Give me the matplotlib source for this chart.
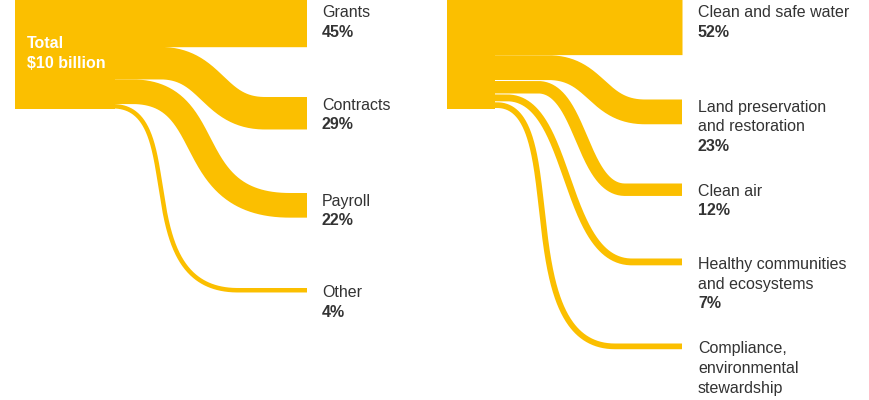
import numpy as np
import matplotlib
matplotlib.use("Agg")
import matplotlib.pyplot as plt
from matplotlib.patches import Rectangle

# ---------------- data ----------------
total_label = ["Total", "$10 billion"]
left_categories = ["Grants", "Contracts", "Payroll", "Other"]
left_shares = [45, 29, 22, 4]
right_categories = [
    "Clean and safe water",
    "Land preservation\nand restoration",
    "Clean air",
    "Healthy communities\nand ecosystems",
    "Compliance,\nenvironmental\nstewardship",
]
right_shares = [52, 23, 12, 7, 6]

# ---------------- layout / style ----------------
YELLOW = "#FBBF00"
TEXT = "#333333"
FONT = "Liberation Sans"
FS = 11.5            # points
DPI = 100
PX_PER_PCT = 1.12
NODE_BOTTOM = 108.5
LINE_STEP = 19.7
CAP = 11.2

panels = [
    dict(cats=left_categories, vals=left_shares, node_x=(15, 115),
         target_x=307, label_x=322,
         target_tops=[None, 97, 193, 288],
         bend_start=[None, 160, 132, 113],
         bend_end=[None, 265, 290, 238],
         shape=[None, (0.5, 0.5), (0.55, 0.3), (0.62, 0.1)], gap=0.0),
    dict(cats=right_categories, vals=right_shares, node_x=(447, 495),
         target_x=682, label_x=698,
         target_tops=[None, 99, 183, 258, 343],
         bend_start=[None, 548, 538, 507, 497],
         bend_end=[None, 645, 625, 632, 615],
         shape=[None, (0.5, 0.5), (0.5, 0.5), (0.52, 0.44), (0.62, 0.1)],
         gap=1.0),
]

fig = plt.figure(figsize=(8.7, 4.0), dpi=DPI)
ax = fig.add_axes([0, 0, 1, 1])
ax.set_xlim(0, 870)
ax.set_ylim(400, 0)
ax.axis("off")


def bezier(x0, y0, x1, y1, a1, a2, n=240):
    t = np.linspace(0, 1, n)
    dx = x1 - x0
    px = [x0, x0 + a1 * dx, x0 + a2 * dx, x1]
    py = [y0, y0, y1, y1]
    b = [(1 - t) ** 3, 3 * (1 - t) ** 2 * t, 3 * (1 - t) * t ** 2, t ** 3]
    xs = sum(bi * p for bi, p in zip(b, px))
    ys = sum(bi * p for bi, p in zip(b, py))
    return xs, ys


for p in panels:
    vals = np.array(p["vals"], dtype=float)
    total = vals.sum()
    node_top = NODE_BOTTOM - total * PX_PER_PCT
    nx0, nx1 = p["node_x"]
    ax.add_patch(Rectangle((nx0, node_top), nx1 - nx0, NODE_BOTTOM - node_top,
                           facecolor=YELLOW, edgecolor="none", zorder=2))
    cum = node_top
    for i, v in enumerate(vals):
        th = v * PX_PER_PCT
        y0c = cum + th / 2
        cum += th
        tt = p["target_tops"][i]
        lw = max(th - p["gap"], 0.5) * 72.0 / DPI
        if tt is None:
            xs = [nx1 - 0.5, p["target_x"]]
            ys = [y0c, y0c]
            band_top = y0c - th / 2
        else:
            y1c = tt + th / 2
            band_top = tt
            bs, be = p["bend_start"][i], p["bend_end"][i]
            a1, a2 = p["shape"][i]
            bx, by = bezier(bs, y0c, be, y1c, a1, a2)
            xs = np.concatenate([[nx1 - 0.5], bx, [p["target_x"]]])
            ys = np.concatenate([[y0c], by, [y1c]])
        ax.plot(xs, ys, color=YELLOW, lw=lw, solid_capstyle="butt",
                solid_joinstyle="round", zorder=3)

        # labels
        center = band_top + th / 2
        ly = min(band_top + 7, center + 1.5)
        ly = max(ly, 11.5)
        lines = p["cats"][i].split("\n") + [f"{int(v)}%"]
        for j, line in enumerate(lines):
            base = ly + j * LINE_STEP + CAP / 2
            if base - CAP > 398:
                continue
            ax.text(p["label_x"], base, line,
                    va="baseline", ha="left", fontsize=FS, color=TEXT,
                    family=FONT,
                    fontweight="bold" if j == len(lines) - 1 else "normal")

for j, line in enumerate(total_label):
    ax.text(27, 42 + j * 20 + CAP / 2, line, va="baseline", ha="left",
            fontsize=FS, color="white", family=FONT, fontweight="bold",
            zorder=5)

fig.savefig("out.png", dpi=DPI, facecolor="white")
